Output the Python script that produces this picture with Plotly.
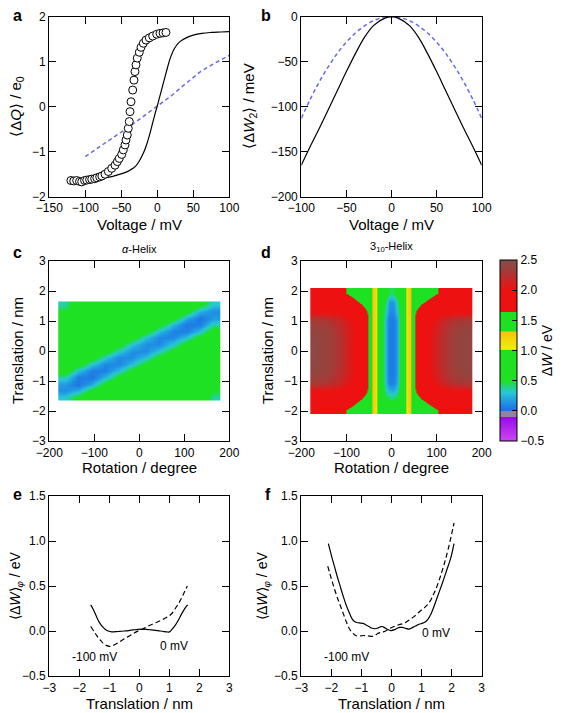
import numpy as np
import plotly.graph_objects as go

# the page body has an 8 px margin, so the figure is drawn 8 px in from the window corner
OFF = 8
W, H = 568 - OFF, 713 - OFF
FONT = "Liberation Sans"

def fx(px):
    return (px - OFF) / W

def fy(py):
    return 1 - (py - OFF) / H

# ---------------- panel a ----------------
a_exp_v = [-120, -116, -112, -108, -105, -101, -98, -94, -91, -87, -84, -80, -77, -72.6, -68, -63.3,
           -58.7, -55.5, -52.8, -49.4, -47.2, -44.9, -43.5, -41.7, -40.3, -38.9, -37.9, -36.5, -34.2,
           -32.4, -31, -29.6, -27.8, -25, -22.6, -19.4, -15.7, -11.1, -6.4, -0.8, 3.8, 8, 12]
a_exp_q = [-1.64, -1.65, -1.64, -1.66, -1.67, -1.64, -1.63, -1.62, -1.61, -1.60, -1.58, -1.56, -1.54,
           -1.50, -1.44, -1.37, -1.30, -1.22, -1.15, -1.06, -0.96, -0.85, -0.74, -0.63, -0.48, -0.33,
           -0.11, 0.11, 0.37, 0.59, 0.78, 0.93, 1.08, 1.21, 1.32, 1.41, 1.48, 1.53, 1.57, 1.61, 1.63,
           1.64, 1.65]
a_sim_v = [-75, -65, -56, -46, -38, -30, -24, -19, -15, -10, -6, -3, 0, 3, 6, 10, 14, 18, 24, 31, 40,
           50, 62, 75, 88, 100]
a_sim_q = [-1.59, -1.56, -1.52, -1.47, -1.41, -1.32, -1.18, -1.02, -0.85, -0.58, -0.33, -0.15, 0.02,
           0.2, 0.38, 0.62, 0.86, 1.08, 1.30, 1.44, 1.53, 1.59, 1.63, 1.65, 1.66, 1.67]
a_dash_v = [-100, -80, -60, -40, -20, 0, 20, 40, 60, 80, 100]
a_dash_q = [-1.11, -0.88, -0.67, -0.46, -0.23, 0.0, 0.25, 0.52, 0.78, 0.97, 1.14]

# ---------------- panel b ----------------
b_sol_v = [-100, -90, -80, -70, -60, -50, -40, -30, -20, -15, -10, -5, 0, 5, 10, 15, 20, 30, 40, 50,
           60, 70, 80, 90, 100]
b_sol_w = [-165, -144, -124, -103, -82, -61, -41, -23, -10, -6, -3, -0.8, 0, -0.8, -3, -6, -10, -23,
           -41, -61, -82, -103, -124, -144, -165]
b_dash_v = [-100, -90, -80, -70, -60, -50, -40, -30, -20, -10, 0, 10, 20, 30, 40, 50, 60, 70, 80, 90, 100]
b_dash_w = [-113, -91.5, -72.3, -55.4, -40.7, -28.3, -18.1, -10.2, -4.5, -1.1, 0, -1.1, -4.5, -10.2,
            -18.1, -28.3, -40.7, -55.4, -72.3, -91.5, -113]

# ---------------- panel c (alpha helix) ----------------
c_rot = [-165, -135, -105, -75, -45, -15, 15, 45, 75, 105, 135, 165]
c_trans = [-1.54, -1.32, -1.10, -0.88, -0.66, -0.44, -0.22, 0.0, 0.22, 0.44, 0.66, 0.88, 1.10, 1.32, 1.54]
# each list: one rotation column, values from bottom (-1.54) to top (1.54)
c_col_m165 = [0.30, 0.12, 0.16, 0.35, 0.62, 0.78, 0.8, 0.8, 0.8, 0.8, 0.8, 0.8, 0.72, 0.5, 0.35]
c_col_m135 = [0.55, 0.22, 0.03, 0.06, 0.28, 0.58, 0.78, 0.8, 0.8, 0.8, 0.8, 0.8, 0.8, 0.8, 0.72]
c_col_m105 = [0.78, 0.55, 0.22, 0.04, 0.07, 0.28, 0.58, 0.78, 0.8, 0.8, 0.8, 0.8, 0.8, 0.8, 0.8]
c_col_m75 = [0.8, 0.78, 0.56, 0.25, 0.08, 0.10, 0.30, 0.56, 0.78, 0.8, 0.8, 0.8, 0.8, 0.8, 0.8]
c_col_m45 = [0.8, 0.8, 0.78, 0.56, 0.26, 0.10, 0.11, 0.30, 0.56, 0.78, 0.8, 0.8, 0.8, 0.8, 0.8]
c_col_m15 = [0.8, 0.8, 0.8, 0.78, 0.56, 0.28, 0.12, 0.12, 0.28, 0.56, 0.78, 0.8, 0.8, 0.8, 0.8]
c_col_p15 = [0.8, 0.8, 0.8, 0.8, 0.78, 0.56, 0.28, 0.12, 0.12, 0.28, 0.56, 0.78, 0.8, 0.8, 0.8]
c_col_p45 = [0.8, 0.8, 0.8, 0.8, 0.8, 0.78, 0.56, 0.30, 0.11, 0.10, 0.26, 0.56, 0.78, 0.8, 0.8]
c_col_p75 = [0.8, 0.8, 0.8, 0.8, 0.8, 0.8, 0.78, 0.56, 0.30, 0.10, 0.08, 0.25, 0.56, 0.78, 0.8]
c_col_p105 = [0.8, 0.8, 0.8, 0.8, 0.8, 0.8, 0.8, 0.78, 0.58, 0.28, 0.07, 0.04, 0.22, 0.55, 0.78]
c_col_p135 = [0.72, 0.8, 0.8, 0.8, 0.8, 0.8, 0.8, 0.8, 0.78, 0.58, 0.28, 0.06, 0.03, 0.22, 0.55]
c_col_p165 = [0.35, 0.5, 0.72, 0.8, 0.8, 0.8, 0.8, 0.8, 0.8, 0.78, 0.62, 0.35, 0.16, 0.12, 0.30]
c_z = np.array([c_col_m165, c_col_m135, c_col_m105, c_col_m75, c_col_m45, c_col_m15,
                c_col_p15, c_col_p45, c_col_p75, c_col_p105, c_col_p135, c_col_p165]).T

# ---------------- panel d (3_10 helix) ----------------
d_rot = [-165, -135, -107.5, -85, -66.5, -53, -44, -36, -28, -20, -12, -4,
         4, 12, 20, 28, 36, 44, 53, 66.5, 85, 107.5, 135, 165]
d_trans = [-1.95, -1.65, -1.35, -1.05, -0.75, -0.45, -0.15, 0.15, 0.45, 0.75, 1.05, 1.35, 1.65, 1.95]
d_row_m195 = [1.85, 1.78, 1.66, 1.56, 1.48, 1.42, 1.34, 1.15, 0.85, 0.72, 0.65, 0.6,
              0.6, 0.65, 0.72, 0.85, 1.15, 1.34, 1.42, 1.48, 1.56, 1.66, 1.78, 1.85]
d_row_m165 = [1.9, 1.87, 1.8, 1.7, 1.6, 1.5, 1.34, 1.15, 0.85, 0.65, 0.55, 0.5,
              0.5, 0.55, 0.65, 0.85, 1.15, 1.34, 1.5, 1.6, 1.7, 1.8, 1.87, 1.9]
d_row_m135 = [1.98, 1.96, 1.92, 1.86, 1.76, 1.62, 1.34, 1.15, 0.85, 0.6, 0.35, 0.25,
              0.25, 0.35, 0.6, 0.85, 1.15, 1.34, 1.62, 1.76, 1.86, 1.92, 1.96, 1.98]
d_row_m105 = [2.3, 2.25, 2.12, 1.99, 1.84, 1.67, 1.34, 1.15, 0.85, 0.55, 0.22, 0.08,
              0.08, 0.22, 0.55, 0.85, 1.15, 1.34, 1.67, 1.84, 1.99, 2.12, 2.25, 2.3]
d_row_m075 = [2.38, 2.33, 2.18, 2.02, 1.86, 1.68, 1.34, 1.15, 0.85, 0.55, 0.2, 0.05,
              0.05, 0.2, 0.55, 0.85, 1.15, 1.34, 1.68, 1.86, 2.02, 2.18, 2.33, 2.38]
d_row_m045 = [2.4, 2.35, 2.2, 2.03, 1.86, 1.68, 1.34, 1.15, 0.85, 0.55, 0.2, 0.05,
              0.05, 0.2, 0.55, 0.85, 1.15, 1.34, 1.68, 1.86, 2.03, 2.2, 2.35, 2.4]
d_row_m015 = [2.4, 2.35, 2.2, 2.03, 1.86, 1.68, 1.34, 1.15, 0.85, 0.55, 0.2, 0.05,
              0.05, 0.2, 0.55, 0.85, 1.15, 1.34, 1.68, 1.86, 2.03, 2.2, 2.35, 2.4]
d_row_p015 = [2.4, 2.35, 2.2, 2.03, 1.86, 1.68, 1.34, 1.15, 0.85, 0.55, 0.2, 0.05,
              0.05, 0.2, 0.55, 0.85, 1.15, 1.34, 1.68, 1.86, 2.03, 2.2, 2.35, 2.4]
d_row_p045 = [2.4, 2.35, 2.2, 2.03, 1.86, 1.68, 1.34, 1.15, 0.85, 0.55, 0.2, 0.05,
              0.05, 0.2, 0.55, 0.85, 1.15, 1.34, 1.68, 1.86, 2.03, 2.2, 2.35, 2.4]
d_row_p075 = [2.38, 2.33, 2.18, 2.02, 1.86, 1.68, 1.34, 1.15, 0.85, 0.55, 0.2, 0.05,
              0.05, 0.2, 0.55, 0.85, 1.15, 1.34, 1.68, 1.86, 2.02, 2.18, 2.33, 2.38]
d_row_p105 = [2.3, 2.25, 2.12, 1.99, 1.84, 1.67, 1.34, 1.15, 0.85, 0.55, 0.2, 0.06,
              0.06, 0.2, 0.55, 0.85, 1.15, 1.34, 1.67, 1.84, 1.99, 2.12, 2.25, 2.3]
d_row_p135 = [1.98, 1.96, 1.92, 1.86, 1.76, 1.62, 1.34, 1.15, 0.85, 0.58, 0.3, 0.12,
              0.12, 0.3, 0.58, 0.85, 1.15, 1.34, 1.62, 1.76, 1.86, 1.92, 1.96, 1.98]
d_row_p165 = [1.9, 1.87, 1.8, 1.7, 1.6, 1.5, 1.34, 1.15, 0.85, 0.6, 0.4, 0.15,
              0.15, 0.4, 0.6, 0.85, 1.15, 1.34, 1.5, 1.6, 1.7, 1.8, 1.87, 1.9]
d_row_p195 = [1.85, 1.78, 1.66, 1.56, 1.48, 1.42, 1.34, 1.15, 0.85, 0.7, 0.6, 0.45,
              0.45, 0.6, 0.7, 0.85, 1.15, 1.34, 1.42, 1.48, 1.56, 1.66, 1.78, 1.85]
d_z = [d_row_m195, d_row_m165, d_row_m135, d_row_m105, d_row_m075, d_row_m045, d_row_m015,
       d_row_p015, d_row_p045, d_row_p075, d_row_p105, d_row_p135, d_row_p165, d_row_p195]

# ---------------- panel e ----------------
e_sol_x = [-1.62, -1.55, -1.48, -1.40, -1.31, -1.22, -1.14, -1.04, -0.92, -0.8, -0.65, -0.5, -0.35,
           -0.2, -0.05, 0.1, 0.25, 0.4, 0.55, 0.7, 0.82, 0.92, 1.0, 1.08, 1.19, 1.3, 1.41, 1.5, 1.58, 1.62]
e_sol_y = [0.29, 0.25, 0.20, 0.14, 0.085, 0.045, 0.02, 0.0, -0.01, -0.008, -0.004, 0.0, 0.005, 0.012,
           0.018, 0.02, 0.018, 0.012, 0.006, 0.0, -0.006, -0.01, -0.01, 0.015, 0.06, 0.12, 0.19, 0.24,
           0.28, 0.29]
e_dash_x = [-1.62, -1.5, -1.4, -1.3, -1.2, -1.1, -1.0, -0.9, -0.7, -0.5, -0.3, -0.1, 0.1, 0.3, 0.5,
            0.7, 0.9, 1.0, 1.1, 1.2, 1.3, 1.4, 1.5, 1.6]
e_dash_y = [0.05, -0.01, -0.06, -0.10, -0.14, -0.16, -0.17, -0.165, -0.13, -0.085, -0.05, -0.01, 0.02,
            0.055, 0.085, 0.115, 0.15, 0.17, 0.2, 0.25, 0.3, 0.36, 0.43, 0.5]

# ---------------- panel f ----------------
f_sol_x = [-2.1, -2.0, -1.9, -1.8, -1.7, -1.6, -1.5, -1.4, -1.3, -1.2, -1.08, -0.95, -0.86, -0.75,
           -0.64, -0.55, -0.47, -0.38, -0.31, -0.22, -0.14, -0.05, 0.0, 0.1, 0.19, 0.28, 0.36, 0.47,
           0.58, 0.68, 0.8, 0.92, 1.02, 1.12, 1.21, 1.3, 1.41, 1.55, 1.69, 1.83, 1.97, 2.08]
f_sol_y = [0.97, 0.84, 0.72, 0.60, 0.49, 0.38, 0.28, 0.2, 0.13, 0.1, 0.09, 0.085, 0.07, 0.05, 0.03,
           0.025, 0.03, 0.045, 0.05, 0.035, 0.02, 0.008, 0.005, 0.015, 0.03, 0.04, 0.04, 0.03, 0.02,
           0.035, 0.056, 0.075, 0.085, 0.1, 0.13, 0.18, 0.27, 0.4, 0.53, 0.67, 0.81, 0.97]
f_dash_x = [-2.12, -2.0, -1.9, -1.8, -1.7, -1.6, -1.5, -1.41, -1.3, -1.19, -1.05, -0.92, -0.78, -0.64,
            -0.55, -0.47, -0.35, -0.25, -0.1, 0.08, 0.25, 0.41, 0.58, 0.75, 0.95, 1.1, 1.19, 1.3, 1.4,
            1.47, 1.6, 1.74, 1.9, 2.08]
f_dash_y = [0.72, 0.58, 0.47, 0.37, 0.28, 0.19, 0.10, 0.03, -0.02, -0.05, -0.055, -0.05, -0.055, -0.06,
            -0.05, -0.03, -0.015, -0.007, 0.02, 0.05, 0.07, 0.085, 0.12, 0.16, 0.22, 0.26, 0.29, 0.34,
            0.41, 0.46, 0.58, 0.73, 0.93, 1.2]

cbar_ticks = [-0.5, 0.0, 0.5, 1.0, 1.5, 2.0, 2.5]

# colour scale on value range -0.5 .. 2.5
ZMIN, ZMAX = -0.5, 2.5
def n(v):
    return (v - ZMIN) / (ZMAX - ZMIN)

cscale = [
    [n(-0.5), "rgb(205,70,245)"],
    [n(-0.1), "rgb(150,10,230)"],
    [n(-0.1), "rgb(150,130,155)"],
    [n(-0.01), "rgb(150,130,155)"],
    [n(-0.01), "rgb(30,110,225)"],
    [n(0.1), "rgb(30,135,230)"],
    [n(0.3), "rgb(40,200,215)"],
    [n(0.5), "rgb(30,225,35)"],
    [n(1.0), "rgb(30,225,35)"],
    [n(1.02), "rgb(235,240,10)"],
    [n(1.31), "rgb(250,195,10)"],
    [n(1.32), "rgb(30,225,35)"],
    [n(1.63), "rgb(30,225,35)"],
    [n(1.64), "rgb(238,17,17)"],
    [n(2.0), "rgb(238,17,17)"],
    [n(2.4), "rgb(145,70,65)"],
    [n(2.5), "rgb(135,75,70)"],
]

BLUE = "rgb(105,105,232)"

fig = go.Figure()

# a
fig.add_trace(go.Scatter(x=a_dash_v, y=a_dash_q, mode="lines", line=dict(color=BLUE, width=1.5, dash="4px,3px"),
                         xaxis="x", yaxis="y", showlegend=False))
fig.add_trace(go.Scatter(x=a_sim_v, y=a_sim_q, mode="lines", line=dict(color="black", width=1.2, shape="spline"),
                         xaxis="x", yaxis="y", showlegend=False))
fig.add_trace(go.Scatter(x=a_exp_v, y=a_exp_q, mode="markers",
                         marker=dict(symbol="circle", size=8, color="white", line=dict(color="black", width=1)),
                         xaxis="x", yaxis="y", showlegend=False))
# b
fig.add_trace(go.Scatter(x=b_dash_v, y=b_dash_w, mode="lines", line=dict(color=BLUE, width=1.5, dash="4px,3px", shape="spline"),
                         xaxis="x2", yaxis="y2", showlegend=False))
fig.add_trace(go.Scatter(x=b_sol_v, y=b_sol_w, mode="lines", line=dict(color="black", width=1.2, shape="spline"),
                         xaxis="x2", yaxis="y2", showlegend=False))
# c
fig.add_trace(go.Heatmap(x=c_rot, y=c_trans, z=c_z, zmin=ZMIN, zmax=ZMAX, colorscale=cscale, zsmooth="best",
                         showscale=False, xaxis="x3", yaxis="y3", hoverinfo="skip"))
# d
fig.add_trace(go.Heatmap(x=d_rot, y=d_trans, z=d_z, zmin=ZMIN, zmax=ZMAX, colorscale=cscale, zsmooth="best",
                         xaxis="x4", yaxis="y4", hoverinfo="skip",
                         colorbar=dict(x=fx(500), xanchor="left", y=fy(441), yanchor="bottom",
                                       len=181 / H, lenmode="fraction", thickness=17, thicknessmode="pixels",
                                       outlinewidth=1, outlinecolor="black", ticks="inside", ticklen=5,
                                       tickcolor="black", tickvals=cbar_ticks, tickformat=".1f",
                                       tickfont=dict(size=12, family=FONT, color="black"),
                                       title=dict(text="Δ<i>W</i> / eV", side="right",
                                                  font=dict(size=14, family=FONT, color="black")),
                                       xpad=0, ypad=0)))
# e
fig.add_trace(go.Scatter(x=e_dash_x, y=e_dash_y, mode="lines", line=dict(color="black", width=1.2, dash="5px,3px", shape="spline"),
                         xaxis="x5", yaxis="y5", showlegend=False))
fig.add_trace(go.Scatter(x=e_sol_x, y=e_sol_y, mode="lines", line=dict(color="black", width=1.2, shape="spline"),
                         xaxis="x5", yaxis="y5", showlegend=False))
# f
fig.add_trace(go.Scatter(x=f_dash_x, y=f_dash_y, mode="lines", line=dict(color="black", width=1.2, dash="5px,3px", shape="spline"),
                         xaxis="x6", yaxis="y6", showlegend=False))
fig.add_trace(go.Scatter(x=f_sol_x, y=f_sol_y, mode="lines", line=dict(color="black", width=1.2, shape="spline"),
                         xaxis="x6", yaxis="y6", showlegend=False))

ax = dict(showline=True, linecolor="black", linewidth=1.2, mirror="ticks", ticks="inside", ticklen=7,
          tickwidth=1.2, tickcolor="black", showgrid=False, zeroline=False,
          tickfont=dict(size=12, family=FONT, color="black"))

col1 = [fx(49.3), fx(229.3)]
col2 = [fx(301.3), fx(481.7)]
row1 = [fy(196.7), fy(16.7)]
row2 = [fy(441), fy(261)]
row3 = [fy(676), fy(496)]

fig.update_layout(
    width=W, height=H, margin=dict(l=0, r=0, t=0, b=0, autoexpand=False),
    paper_bgcolor="white", plot_bgcolor="white",
    font=dict(family=FONT, color="black"),
    xaxis=dict(ax, domain=col1, anchor="y", range=[-150, 100], tickvals=[-150, -100, -50, 0, 50, 100]),
    yaxis=dict(ax, domain=row1, anchor="x", range=[-2, 2], tickvals=[-2, -1, 0, 1, 2]),
    xaxis2=dict(ax, domain=col2, anchor="y2", range=[-100, 100], tickvals=[-100, -50, 0, 50, 100]),
    yaxis2=dict(ax, domain=row1, anchor="x2", range=[-200, 0], tickvals=[-200, -150, -100, -50, 0]),
    xaxis3=dict(ax, domain=col1, anchor="y3", range=[-200, 200], tickvals=[-200, -100, 0, 100, 200]),
    yaxis3=dict(ax, domain=row2, anchor="x3", range=[-3, 3], tickvals=[-3, -2, -1, 0, 1, 2, 3]),
    xaxis4=dict(ax, domain=col2, anchor="y4", range=[-200, 200], tickvals=[-200, -100, 0, 100, 200]),
    yaxis4=dict(ax, domain=row2, anchor="x4", range=[-3, 3], tickvals=[-3, -2, -1, 0, 1, 2, 3]),
    xaxis5=dict(ax, domain=col1, anchor="y5", range=[-3, 3], tickvals=[-3, -2, -1, 0, 1, 2, 3]),
    yaxis5=dict(ax, domain=row3, anchor="x5", range=[-0.5, 1.5], tickvals=[-0.5, 0, 0.5, 1.0, 1.5], tickformat=".1f"),
    xaxis6=dict(ax, domain=col2, anchor="y6", range=[-3, 3], tickvals=[-3, -2, -1, 0, 1, 2, 3]),
    yaxis6=dict(ax, domain=row3, anchor="x6", range=[-0.5, 1.5], tickvals=[-0.5, 0, 0.5, 1.0, 1.5], tickformat=".1f"),
)

ann = []
def text(px, py, s, size=15, angle=0, bold=False):
    ann.append(dict(x=fx(px), y=fy(py), xref="paper", yref="paper", text=(f"<b>{s}</b>" if bold else s),
                    showarrow=False, textangle=angle, xanchor="center", yanchor="middle",
                    font=dict(size=size, family=FONT, color="black")))

# panel letters
for lab, px, py in [("a", 17, 15), ("b", 266, 15), ("c", 17, 253), ("d", 266, 253), ("e", 17, 494), ("f", 268, 494)]:
    text(px, py, lab, size=16, bold=True)

# x titles
text(139.3, 224, "Voltage / mV")
text(391.5, 224, "Voltage / mV")
text(139.3, 467, "Rotation / degree")
text(391.5, 467, "Rotation / degree")
text(139.3, 703, "Translation / nm")
text(391.5, 703, "Translation / nm")
# y titles
text(17, 106.7, "⟨Δ<i>Q</i>⟩ / e<sub>0</sub>", angle=-90)
text(250, 106.7, "⟨Δ<i>W</i><sub>2</sub>⟩ / meV", angle=-90)
text(18, 351, "Translation / nm", angle=-90)
text(268, 351, "Translation / nm", angle=-90)
text(16, 586, "⟨Δ<i>W</i>⟩<sub><i>φ</i></sub> / eV", size=14, angle=-90)
text(263, 586, "⟨Δ<i>W</i>⟩<sub><i>φ</i></sub> / eV", size=14, angle=-90)
# panel titles
text(139.3, 249, "<i>α</i>-Helix", size=11)
text(391.5, 247, "3<sub>10</sub>-Helix", size=11)
# curve labels
text(94.5, 657, "-100 mV", size=12)
text(174, 646, "0 mV", size=12)
text(346.5, 657, "-100 mV", size=12)
text(436.5, 633, "0 mV", size=12)

fig.update_layout(annotations=ann)
fig.write_html("out.html")
